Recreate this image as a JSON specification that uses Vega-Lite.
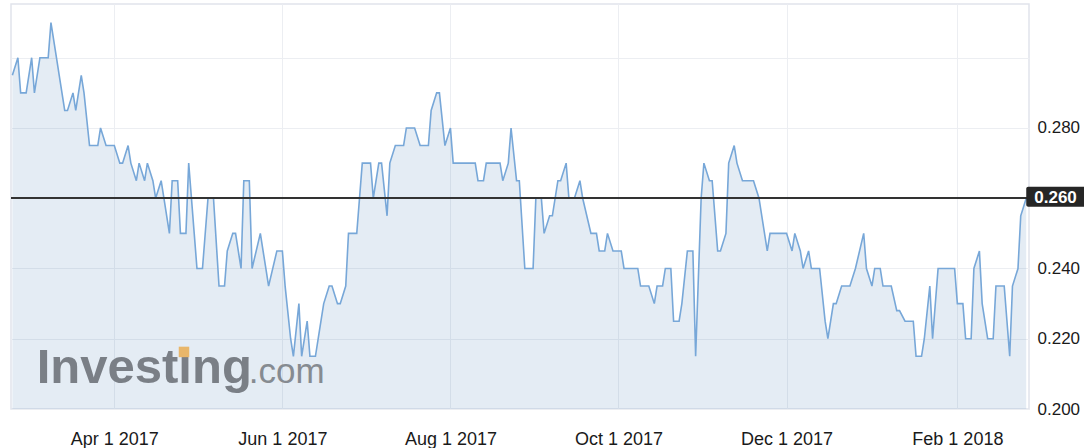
{
  "$schema": "https://vega.github.io/schema/vega-lite/v6.json",
  "description": "Daily closing price, Feb 2017 - Feb 2018, Investing.com style area chart.",
  "width": 1018,
  "height": 405,
  "padding": {"left": 11, "top": 4, "right": 55, "bottom": 39},
  "autosize": {"type": "none"},
  "background": "white",
  "datasets": {
    "prices": [
      {"date": "2017-02-23", "price": 0.295},
      {"date": "2017-02-25", "price": 0.300},
      {"date": "2017-02-26", "price": 0.290},
      {"date": "2017-02-28", "price": 0.290},
      {"date": "2017-03-02", "price": 0.300},
      {"date": "2017-03-03", "price": 0.290},
      {"date": "2017-03-05", "price": 0.300},
      {"date": "2017-03-08", "price": 0.300},
      {"date": "2017-03-09", "price": 0.310},
      {"date": "2017-03-11", "price": 0.300},
      {"date": "2017-03-12", "price": 0.295},
      {"date": "2017-03-14", "price": 0.285},
      {"date": "2017-03-15", "price": 0.285},
      {"date": "2017-03-17", "price": 0.290},
      {"date": "2017-03-18", "price": 0.285},
      {"date": "2017-03-20", "price": 0.295},
      {"date": "2017-03-21", "price": 0.290},
      {"date": "2017-03-23", "price": 0.275},
      {"date": "2017-03-26", "price": 0.275},
      {"date": "2017-03-27", "price": 0.280},
      {"date": "2017-03-29", "price": 0.275},
      {"date": "2017-04-01", "price": 0.275},
      {"date": "2017-04-03", "price": 0.270},
      {"date": "2017-04-04", "price": 0.270},
      {"date": "2017-04-06", "price": 0.275},
      {"date": "2017-04-07", "price": 0.270},
      {"date": "2017-04-09", "price": 0.265},
      {"date": "2017-04-10", "price": 0.270},
      {"date": "2017-04-12", "price": 0.265},
      {"date": "2017-04-13", "price": 0.270},
      {"date": "2017-04-15", "price": 0.265},
      {"date": "2017-04-16", "price": 0.260},
      {"date": "2017-04-18", "price": 0.265},
      {"date": "2017-04-19", "price": 0.260},
      {"date": "2017-04-21", "price": 0.250},
      {"date": "2017-04-22", "price": 0.265},
      {"date": "2017-04-24", "price": 0.265},
      {"date": "2017-04-25", "price": 0.250},
      {"date": "2017-04-27", "price": 0.250},
      {"date": "2017-04-28", "price": 0.270},
      {"date": "2017-04-30", "price": 0.250},
      {"date": "2017-05-01", "price": 0.240},
      {"date": "2017-05-03", "price": 0.240},
      {"date": "2017-05-05", "price": 0.260},
      {"date": "2017-05-07", "price": 0.260},
      {"date": "2017-05-09", "price": 0.235},
      {"date": "2017-05-11", "price": 0.235},
      {"date": "2017-05-12", "price": 0.245},
      {"date": "2017-05-14", "price": 0.250},
      {"date": "2017-05-15", "price": 0.250},
      {"date": "2017-05-17", "price": 0.240},
      {"date": "2017-05-18", "price": 0.265},
      {"date": "2017-05-20", "price": 0.265},
      {"date": "2017-05-21", "price": 0.240},
      {"date": "2017-05-24", "price": 0.250},
      {"date": "2017-05-26", "price": 0.240},
      {"date": "2017-05-27", "price": 0.235},
      {"date": "2017-05-30", "price": 0.245},
      {"date": "2017-06-01", "price": 0.245},
      {"date": "2017-06-02", "price": 0.235},
      {"date": "2017-06-04", "price": 0.220},
      {"date": "2017-06-05", "price": 0.215},
      {"date": "2017-06-07", "price": 0.230},
      {"date": "2017-06-08", "price": 0.215},
      {"date": "2017-06-10", "price": 0.225},
      {"date": "2017-06-11", "price": 0.215},
      {"date": "2017-06-13", "price": 0.215},
      {"date": "2017-06-14", "price": 0.220},
      {"date": "2017-06-16", "price": 0.230},
      {"date": "2017-06-18", "price": 0.235},
      {"date": "2017-06-19", "price": 0.235},
      {"date": "2017-06-21", "price": 0.230},
      {"date": "2017-06-22", "price": 0.230},
      {"date": "2017-06-24", "price": 0.235},
      {"date": "2017-06-25", "price": 0.250},
      {"date": "2017-06-28", "price": 0.250},
      {"date": "2017-06-30", "price": 0.270},
      {"date": "2017-07-03", "price": 0.270},
      {"date": "2017-07-04", "price": 0.260},
      {"date": "2017-07-06", "price": 0.270},
      {"date": "2017-07-07", "price": 0.270},
      {"date": "2017-07-09", "price": 0.255},
      {"date": "2017-07-10", "price": 0.270},
      {"date": "2017-07-12", "price": 0.275},
      {"date": "2017-07-15", "price": 0.275},
      {"date": "2017-07-16", "price": 0.280},
      {"date": "2017-07-19", "price": 0.280},
      {"date": "2017-07-21", "price": 0.275},
      {"date": "2017-07-24", "price": 0.275},
      {"date": "2017-07-25", "price": 0.285},
      {"date": "2017-07-27", "price": 0.290},
      {"date": "2017-07-28", "price": 0.290},
      {"date": "2017-07-30", "price": 0.275},
      {"date": "2017-08-01", "price": 0.280},
      {"date": "2017-08-02", "price": 0.270},
      {"date": "2017-08-10", "price": 0.270},
      {"date": "2017-08-11", "price": 0.265},
      {"date": "2017-08-13", "price": 0.265},
      {"date": "2017-08-14", "price": 0.270},
      {"date": "2017-08-19", "price": 0.270},
      {"date": "2017-08-20", "price": 0.265},
      {"date": "2017-08-22", "price": 0.270},
      {"date": "2017-08-23", "price": 0.280},
      {"date": "2017-08-25", "price": 0.265},
      {"date": "2017-08-26", "price": 0.265},
      {"date": "2017-08-28", "price": 0.240},
      {"date": "2017-08-31", "price": 0.240},
      {"date": "2017-09-01", "price": 0.260},
      {"date": "2017-09-03", "price": 0.260},
      {"date": "2017-09-04", "price": 0.250},
      {"date": "2017-09-06", "price": 0.255},
      {"date": "2017-09-07", "price": 0.255},
      {"date": "2017-09-09", "price": 0.265},
      {"date": "2017-09-10", "price": 0.265},
      {"date": "2017-09-12", "price": 0.270},
      {"date": "2017-09-13", "price": 0.260},
      {"date": "2017-09-15", "price": 0.260},
      {"date": "2017-09-17", "price": 0.265},
      {"date": "2017-09-18", "price": 0.260},
      {"date": "2017-09-21", "price": 0.250},
      {"date": "2017-09-23", "price": 0.250},
      {"date": "2017-09-24", "price": 0.245},
      {"date": "2017-09-26", "price": 0.245},
      {"date": "2017-09-27", "price": 0.250},
      {"date": "2017-09-29", "price": 0.245},
      {"date": "2017-10-02", "price": 0.245},
      {"date": "2017-10-03", "price": 0.240},
      {"date": "2017-10-08", "price": 0.240},
      {"date": "2017-10-09", "price": 0.235},
      {"date": "2017-10-12", "price": 0.235},
      {"date": "2017-10-14", "price": 0.230},
      {"date": "2017-10-15", "price": 0.235},
      {"date": "2017-10-17", "price": 0.235},
      {"date": "2017-10-18", "price": 0.240},
      {"date": "2017-10-20", "price": 0.240},
      {"date": "2017-10-21", "price": 0.225},
      {"date": "2017-10-23", "price": 0.225},
      {"date": "2017-10-24", "price": 0.230},
      {"date": "2017-10-26", "price": 0.245},
      {"date": "2017-10-28", "price": 0.245},
      {"date": "2017-10-29", "price": 0.215},
      {"date": "2017-10-31", "price": 0.260},
      {"date": "2017-11-01", "price": 0.270},
      {"date": "2017-11-03", "price": 0.265},
      {"date": "2017-11-04", "price": 0.265},
      {"date": "2017-11-06", "price": 0.245},
      {"date": "2017-11-07", "price": 0.245},
      {"date": "2017-11-09", "price": 0.250},
      {"date": "2017-11-10", "price": 0.270},
      {"date": "2017-11-12", "price": 0.275},
      {"date": "2017-11-13", "price": 0.270},
      {"date": "2017-11-15", "price": 0.265},
      {"date": "2017-11-19", "price": 0.265},
      {"date": "2017-11-21", "price": 0.260},
      {"date": "2017-11-24", "price": 0.245},
      {"date": "2017-11-25", "price": 0.250},
      {"date": "2017-12-01", "price": 0.250},
      {"date": "2017-12-03", "price": 0.245},
      {"date": "2017-12-04", "price": 0.250},
      {"date": "2017-12-06", "price": 0.245},
      {"date": "2017-12-07", "price": 0.240},
      {"date": "2017-12-09", "price": 0.245},
      {"date": "2017-12-10", "price": 0.240},
      {"date": "2017-12-13", "price": 0.240},
      {"date": "2017-12-15", "price": 0.225},
      {"date": "2017-12-16", "price": 0.220},
      {"date": "2017-12-18", "price": 0.230},
      {"date": "2017-12-19", "price": 0.230},
      {"date": "2017-12-21", "price": 0.235},
      {"date": "2017-12-24", "price": 0.235},
      {"date": "2017-12-26", "price": 0.240},
      {"date": "2017-12-29", "price": 0.250},
      {"date": "2017-12-30", "price": 0.240},
      {"date": "2018-01-01", "price": 0.235},
      {"date": "2018-01-02", "price": 0.240},
      {"date": "2018-01-04", "price": 0.240},
      {"date": "2018-01-05", "price": 0.235},
      {"date": "2018-01-08", "price": 0.235},
      {"date": "2018-01-10", "price": 0.228},
      {"date": "2018-01-11", "price": 0.228},
      {"date": "2018-01-13", "price": 0.225},
      {"date": "2018-01-16", "price": 0.225},
      {"date": "2018-01-17", "price": 0.215},
      {"date": "2018-01-19", "price": 0.215},
      {"date": "2018-01-20", "price": 0.220},
      {"date": "2018-01-22", "price": 0.235},
      {"date": "2018-01-23", "price": 0.220},
      {"date": "2018-01-25", "price": 0.240},
      {"date": "2018-01-31", "price": 0.240},
      {"date": "2018-02-01", "price": 0.230},
      {"date": "2018-02-03", "price": 0.230},
      {"date": "2018-02-04", "price": 0.220},
      {"date": "2018-02-06", "price": 0.220},
      {"date": "2018-02-07", "price": 0.240},
      {"date": "2018-02-09", "price": 0.245},
      {"date": "2018-02-10", "price": 0.230},
      {"date": "2018-02-12", "price": 0.220},
      {"date": "2018-02-14", "price": 0.220},
      {"date": "2018-02-15", "price": 0.235},
      {"date": "2018-02-18", "price": 0.235},
      {"date": "2018-02-20", "price": 0.215},
      {"date": "2018-02-21", "price": 0.235},
      {"date": "2018-02-23", "price": 0.240},
      {"date": "2018-02-24", "price": 0.255},
      {"date": "2018-02-26", "price": 0.260}
    ],
    "last": [
      {"date": "2018-02-26", "price": 0.260}
    ]
  },
  "data": {"name": "prices"},
  "encoding": {
    "x": {
      "field": "date",
      "type": "temporal",
      "title": null,
      "scale": {
        "type": "utc",
        "domain": [
          {"year": 2017, "month": 2, "date": 22, "hours": 12, "utc": true},
          {"year": 2018, "month": 2, "date": 27, "utc": true}
        ]
      },
      "axis": {
        "values": [
          {"year": 2017, "month": 4, "date": 1, "utc": true},
          {"year": 2017, "month": 6, "date": 1, "utc": true},
          {"year": 2017, "month": 8, "date": 1, "utc": true},
          {"year": 2017, "month": 10, "date": 1, "utc": true},
          {"year": 2017, "month": 12, "date": 1, "utc": true},
          {"year": 2018, "month": 2, "date": 1, "utc": true}
        ],
        "format": "%b %-d %Y",
        "ticks": false,
        "domain": false,
        "labelPadding": 21,
        "labelFontSize": 18,
        "gridColor": "#eceef2"
      }
    },
    "y": {
      "field": "price",
      "type": "quantitative",
      "title": null,
      "scale": {"domain": [0.2, 0.3153], "nice": false, "zero": false},
      "axis": {
        "orient": "right",
        "values": [0.2, 0.22, 0.24, 0.26, 0.28, 0.3],
        "format": ".3f",
        "labelExpr": "datum.value > 0.29 || (datum.value > 0.255 && datum.value < 0.265) ? '' : datum.label",
        "ticks": false,
        "domain": false,
        "labelPadding": 8,
        "labelFontSize": 17,
        "labelAlign": "left",
        "gridColor": "#eceef2"
      }
    }
  },
  "layer": [
    {
      "mark": {"type": "area", "color": "#3f78b0", "opacity": 0.14},
      "encoding": {"y2": {"datum": 0.2}}
    },
    {
      "data": {"name": "last"},
      "mark": {"type": "text", "text": "Investing", "font": "Liberation Sans", "fontWeight": "bold", "fontSize": 49, "color": "#7a7f86", "align": "left", "baseline": "alphabetic"},
      "encoding": {
        "x": {"datum": {"year": 2017, "month": 3, "date": 3, "hours": 20, "utc": true}},
        "y": {"datum": 0.2074}
      }
    },
    {
      "data": {"name": "last"},
      "mark": {"type": "text", "text": ".com", "font": "Liberation Sans", "fontSize": 35, "color": "#868b91", "align": "left", "baseline": "alphabetic", "dx": 212},
      "encoding": {
        "x": {"datum": {"year": 2017, "month": 3, "date": 3, "hours": 20, "utc": true}},
        "y": {"datum": 0.2074}
      }
    },
    {
      "data": {"name": "last"},
      "mark": {"type": "point", "shape": "square", "filled": true, "size": 110, "color": "#e8b66a", "opacity": 1},
      "encoding": {
        "x": {"datum": {"year": 2017, "month": 4, "date": 26, "hours": 7, "utc": true}},
        "y": {"datum": 0.21625}
      }
    },
    {
      "mark": {"type": "line", "color": "#77a7d8", "strokeWidth": 1.6}
    },
    {
      "mark": {"type": "rule", "color": "#333333", "strokeWidth": 1.5},
      "encoding": {"x": null, "y": {"datum": 0.26}}
    },
    {
      "data": {"name": "last"},
      "mark": {"type": "rect", "color": "#262626", "cornerRadius": 2},
      "encoding": {
        "x": {"field": "date", "type": "temporal"},
        "x2": {"datum": {"year": 2018, "month": 3, "date": 25, "utc": true}},
        "y": {"datum": 0.2633},
        "y2": {"datum": 0.2576}
      }
    },
    {
      "data": {"name": "last"},
      "mark": {"type": "text", "align": "left", "baseline": "middle", "dx": 8, "fontSize": 17, "fontWeight": "bold", "color": "white", "font": "Liberation Sans"},
      "encoding": {
        "text": {"field": "price", "type": "quantitative", "format": ".3f"}
      }
    }
  ],
  "config": {
    "view": {"stroke": "#e1e4eb", "strokeWidth": 1.5},
    "axis": {
      "labelFont": "Liberation Sans",
      "labelColor": "#1a1a1a",
      "grid": true
    }
  }
}
